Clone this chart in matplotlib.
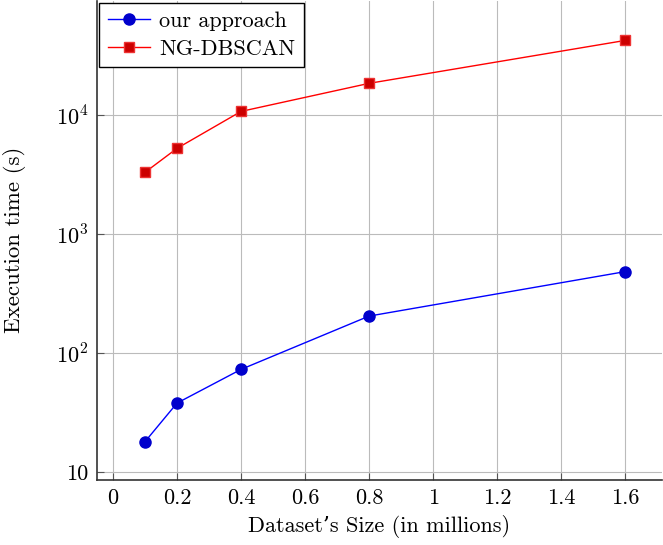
import matplotlib
matplotlib.use("Agg")
import matplotlib.pyplot as plt
from matplotlib.ticker import FixedLocator, FixedFormatter, NullLocator

plt.rcParams["font.family"] = ["cmr10", "DejaVu Serif"]
plt.rcParams["mathtext.fontset"] = "cm"
plt.rcParams["axes.formatter.use_mathtext"] = True

sizes = [0.1, 0.2, 0.4, 0.8, 1.6]
ours = [18, 38, 73, 205, 485]
ngdbscan = [3320, 5280, 10800, 18600, 42700]

x_ticks = [0, 0.2, 0.4, 0.6, 0.8, 1, 1.2, 1.4, 1.6]
x_labels = ["0", "0.2", "0.4", "0.6", "0.8", "1", "1.2", "1.4", "1.6"]
y_ticks = [10, 100, 1000, 10000]
y_labels = ["10", r"$10^2$", r"$10^3$", r"$10^4$"]

fig = plt.figure(figsize=(6.63, 5.45), dpi=100)
ax = fig.add_axes([0.1463, 0.1193, 0.8522, 0.8797])

ax.plot(sizes, ours, color="blue", lw=1.0, marker="o", ms=8,
        mfc="#0000cc", mec="#0000cc", label="our approach")
ax.plot(sizes, ngdbscan, color="red", lw=1.0, marker="s", ms=7.5,
        mfc="#cc0000", mec="#ee3333", label="NG-DBSCAN")

ax.set_yscale("log")
ax.set_xlim(-0.05, 1.715)
ax.set_ylim(10 ** 0.933, 10 ** 4.966)

ax.xaxis.set_major_locator(FixedLocator(x_ticks))
ax.xaxis.set_major_formatter(FixedFormatter(x_labels))
ax.yaxis.set_major_locator(FixedLocator(y_ticks))
ax.yaxis.set_major_formatter(FixedFormatter(y_labels))
ax.yaxis.set_minor_locator(NullLocator())

ax.grid(True, color="#bbbbbb", lw=0.8)
ax.set_axisbelow(True)
ax.tick_params(direction="in", length=5, width=0.8, color="#555555",
               labelsize=16, pad=6)

for side in ["top", "right"]:
    ax.spines[side].set_visible(False)
for side in ["left", "bottom"]:
    ax.spines[side].set_color("#333333")
    ax.spines[side].set_linewidth(1.2)

ax.set_xlabel("Dataset\u2019s Size (in millions)", fontsize=16, labelpad=5)
ax.set_ylabel("Execution time (s)", fontsize=16.5, labelpad=22)

leg = ax.legend(loc="upper left", fontsize=16, fancybox=False, framealpha=1,
                edgecolor="black", borderaxespad=0.1, handlelength=1.9,
                handletextpad=0.4, borderpad=0.4, labelspacing=0.35)
leg.get_frame().set_linewidth(1.0)

fig.savefig("out.png", dpi=100)
